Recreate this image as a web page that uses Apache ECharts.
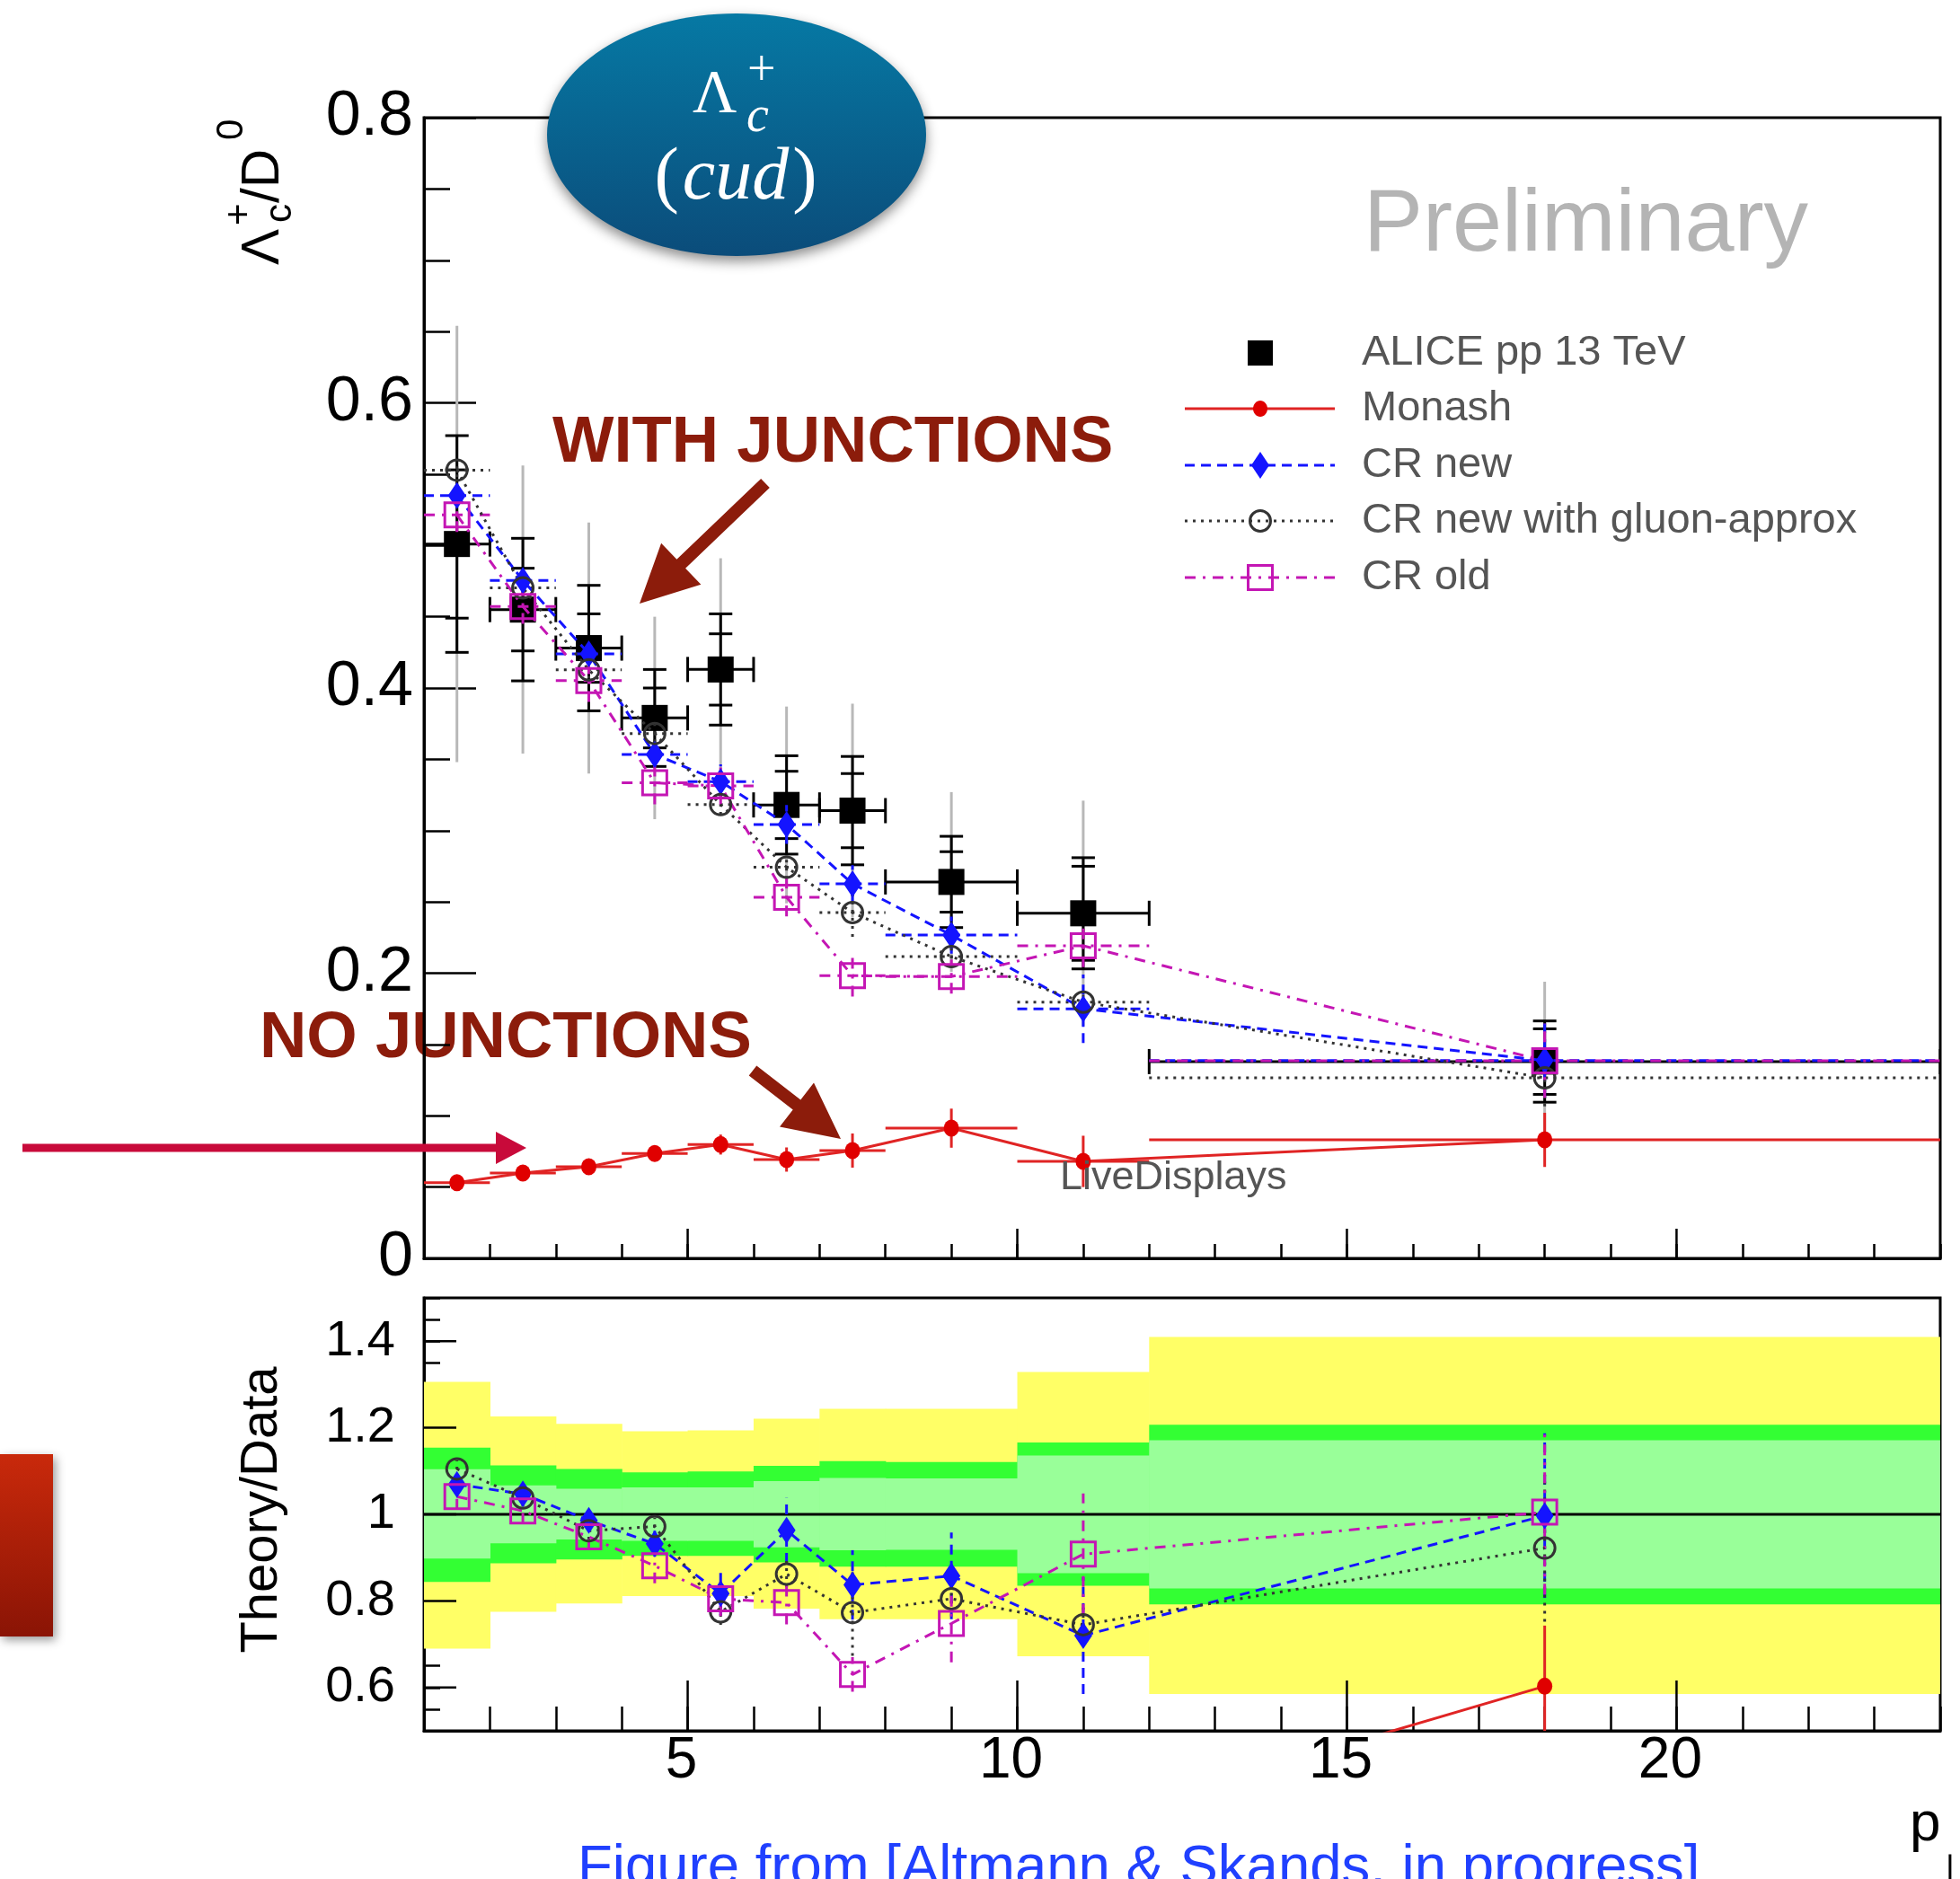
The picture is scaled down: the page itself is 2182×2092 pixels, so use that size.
<!DOCTYPE html>
<html><head><meta charset="utf-8">
<script src="https://cdn.jsdelivr.net/npm/echarts@6/dist/echarts.min.js"></script>
<style>html,body{margin:0;padding:0;background:#fff}#c{width:2182px;height:2092px}</style>
</head><body><div id="c"></div>
<script>
// ---------- data ----------
const binCenter = [1.5, 2.5, 3.5, 4.5, 5.5, 6.5, 7.5, 9, 11, 18];
const binLow    = [1, 2, 3, 4, 5, 6, 7, 8, 10, 12];
const binHigh   = [2, 3, 4, 5, 6, 7, 8, 10, 12, 24];

const aliceVal       = [0.501, 0.455, 0.428, 0.379, 0.413, 0.318, 0.314, 0.264, 0.242, 0.138];
const aliceStat      = [0.076, 0.050, 0.044, 0.034, 0.039, 0.0345, 0.038, 0.032, 0.039, 0.0285];
const aliceStatInner = [0.052, 0.029, 0.024, 0.021, 0.025, 0.0236, 0.026, 0.0212, 0.033, 0.023];
const aliceSyst      = [0.153, 0.101, 0.088, 0.071, 0.078, 0.069, 0.075, 0.063, 0.079, 0.056];

const monashVal = [0.0531, 0.0598, 0.0642, 0.0735, 0.0798, 0.0693, 0.0756, 0.0913, 0.068, 0.0831];
const monashErr = [0.003, 0.004, 0.004, 0.005, 0.007, 0.0085, 0.012, 0.0137, 0.018, 0.019];
const crNewVal  = [0.535, 0.4755, 0.424, 0.3534, 0.3344, 0.3043, 0.2627, 0.2267, 0.175, 0.1387];
const crNewErr  = [0.006, 0.008, 0.008, 0.009, 0.012, 0.0136, 0.013, 0.013, 0.024, 0.026];
const gluonVal  = [0.5528, 0.4702, 0.4127, 0.3681, 0.3182, 0.2743, 0.2425, 0.2116, 0.1797, 0.1266];
const gluonErr  = [0.005, 0.005, 0.006, 0.006, 0.007, 0.008, 0.017, 0.007, 0.008, 0.02];
const crOldVal  = [0.5214, 0.4571, 0.4052, 0.3335, 0.3313, 0.2532, 0.1982, 0.1976, 0.2192, 0.1386];
const crOldErr  = [0.012, 0.012, 0.015, 0.015, 0.013, 0.0133, 0.0145, 0.012, 0.015, 0.026];

const ratioCrNew     = [1.069, 1.047, 0.986, 0.932, 0.817, 0.963, 0.837, 0.858, 0.720, 0.997];
const ratioCrNewErr  = [0.02, 0.02, 0.025, 0.03, 0.05, 0.075, 0.08, 0.10, 0.135, 0.19];
const ratioGluon     = [1.105, 1.038, 0.962, 0.972, 0.775, 0.862, 0.773, 0.805, 0.745, 0.922];
const ratioGluonErr  = [0.02, 0.02, 0.02, 0.02, 0.03, 0.03, 0.10, 0.03, 0.04, 0.17];
const ratioCrOld     = [1.041, 1.008, 0.948, 0.881, 0.805, 0.796, 0.630, 0.748, 0.908, 1.005];
const ratioCrOldErr  = [0.03, 0.03, 0.03, 0.04, 0.04, 0.05, 0.04, 0.09, 0.14, 0.19];
const ratioMonash    = [0.106, 0.131, 0.150, 0.194, 0.193, 0.218, 0.241, 0.346, 0.29, 0.603];
const ratioMonashErr = [0.01, 0.01, 0.01, 0.02, 0.02, 0.03, 0.04, 0.05, 0.08, 0.14];

const bandYellowHi     = [1.306, 1.226, 1.209, 1.192, 1.194, 1.221, 1.244, 1.244, 1.329, 1.410];
const bandYellowLo     = [0.690, 0.775, 0.794, 0.811, 0.811, 0.782, 0.758, 0.758, 0.672, 0.585];
const bandGreenOuterHi = [1.154, 1.113, 1.105, 1.097, 1.099, 1.112, 1.123, 1.121, 1.166, 1.207];
const bandGreenOuterLo = [0.844, 0.887, 0.896, 0.904, 0.904, 0.889, 0.879, 0.879, 0.835, 0.792];
const bandGreenInnerHi = [1.104, 1.067, 1.059, 1.062, 1.062, 1.077, 1.084, 1.083, 1.136, 1.171];
const bandGreenInnerLo = [0.898, 0.933, 0.942, 0.939, 0.939, 0.924, 0.917, 0.918, 0.864, 0.829];

const refLineY = [1];
const xMajorTicks = [5, 10, 15, 20];
const yMajorTicksLower = [0.6, 0.8, 1, 1.2, 1.4];
const legendNames = ['ALICE pp 13 TeV', 'Monash', 'CR new', 'CR new with gluon-approx', 'CR old'];

// ---------- styling ----------
const FONT = 'Liberation Sans, Arial, Helvetica, sans-serif';
const SERIF = 'Liberation Serif, Times New Roman, serif';
const BLUE = '#1414ff', GL = '#333333', MAG = '#c416b4', RED = '#e00000', REDL = '#e02424';
const DASH = [11, 7], DOT = [3, 6], DASHDOT = [12, 8, 3, 8];
const DARKRED = '#8c1c0b';

function lineSeries(gi, xs, ys, color, dash, z) {
  return {type: 'line', xAxisIndex: gi, yAxisIndex: gi, data: xs.map((x, i) => [x, ys[i]]),
    symbol: 'none', lineStyle: {color, width: 3, type: dash || 'solid', opacity: 1}, clip: true, silent: true, z};
}
function markerSeries(gi, xs, ys, symbol, size, itemStyle, z) {
  return {type: 'scatter', xAxisIndex: gi, yAxisIndex: gi, data: xs.map((x, i) => [x, ys[i]]),
    symbol, symbolSize: size, itemStyle: Object.assign({opacity: 1}, itemStyle), clip: true, silent: true, z};
}
function errorSeries(gi, xs, ys, errs, lo, hi, color, dash, z) {
  const data = xs.map((x, i) => [x, ys[i], lo ? lo[i] : x, hi ? hi[i] : x, ys[i] - errs[i], ys[i] + errs[i]]);
  return {type: 'custom', xAxisIndex: gi, yAxisIndex: gi, data, clip: true, silent: true, z,
    encode: {x: [0, 2, 3], y: [1, 4, 5]},
    renderItem: (p, api) => {
      const a = api.coord([api.value(2), api.value(1)]);
      const b = api.coord([api.value(3), api.value(1)]);
      const l = api.coord([api.value(0), api.value(4)]);
      const h = api.coord([api.value(0), api.value(5)]);
      const st = {stroke: color, lineWidth: 3, lineDash: dash, fill: null};
      const ch = [];
      if (lo) ch.push({type: 'line', shape: {x1: a[0], y1: a[1], x2: b[0], y2: b[1]}, style: st});
      ch.push({type: 'line', shape: {x1: l[0], y1: l[1], x2: h[0], y2: h[1]}, style: st});
      return {type: 'group', children: ch};
    }};
}
function bandSeries(loArr, hiArr, color, z) {
  return {type: 'custom', xAxisIndex: 1, yAxisIndex: 1, clip: true, silent: true, z,
    data: binLow.map((x, i) => [x, binHigh[i], loArr[i], hiArr[i]]),
    encode: {x: [0, 1], y: [2, 3]},
    renderItem: (p, api) => {
      const p1 = api.coord([api.value(0), api.value(3)]);
      const p2 = api.coord([api.value(1), api.value(2)]);
      return {type: 'rect', shape: {x: p1[0], y: p1[1], width: p2[0] - p1[0] + 0.6, height: p2[1] - p1[1]},
        style: {fill: color}};
    }};
}
function majorXTicks(gi, yref, len) {
  return {type: 'custom', xAxisIndex: gi, yAxisIndex: gi, silent: true, z: 10,
    data: xMajorTicks.map(v => [v, yref]), encode: {x: 0, y: 1},
    renderItem: (p, api) => {
      const c = api.coord([api.value(0), api.value(1)]);
      return {type: 'line', shape: {x1: c[0], y1: c[1], x2: c[0], y2: c[1] - len},
        style: {stroke: '#000', lineWidth: 2.5}};
    }};
}
const aliceErr = {type: 'custom', xAxisIndex: 0, yAxisIndex: 0, silent: true, clip: true, z: 2,
  data: binCenter.map((x, i) => [x, aliceVal[i], binLow[i], binHigh[i],
    aliceVal[i] - aliceStat[i], aliceVal[i] + aliceStat[i],
    aliceVal[i] - aliceStatInner[i], aliceVal[i] + aliceStatInner[i]]),
  encode: {x: [0, 2, 3], y: [1, 4, 5]},
  renderItem: (p, api) => {
    const st = {stroke: '#000', lineWidth: 3, fill: null};
    const a = api.coord([api.value(2), api.value(1)]);
    const b = api.coord([api.value(3), api.value(1)]);
    const ch = [
      {type: 'line', shape: {x1: a[0], y1: a[1], x2: b[0], y2: b[1]}, style: st},
      {type: 'line', shape: {x1: a[0], y1: a[1] - 14, x2: a[0], y2: a[1] + 14}, style: st},
      {type: 'line', shape: {x1: b[0], y1: b[1] - 14, x2: b[0], y2: b[1] + 14}, style: st}
    ];
    const l = api.coord([api.value(0), api.value(4)]);
    const h = api.coord([api.value(0), api.value(5)]);
    ch.push({type: 'line', shape: {x1: l[0], y1: l[1], x2: h[0], y2: h[1]}, style: st});
    [4, 5, 6, 7].forEach(k => {
      const q = api.coord([api.value(0), api.value(k)]);
      ch.push({type: 'line', shape: {x1: q[0] - 13, y1: q[1], x2: q[0] + 13, y2: q[1]}, style: st});
    });
    return {type: 'group', children: ch};
  }};
const aliceSystSeries = {type: 'custom', xAxisIndex: 0, yAxisIndex: 0, silent: true, clip: true, z: 1,
  data: binCenter.map((x, i) => [x, aliceVal[i] - aliceSyst[i], aliceVal[i] + aliceSyst[i]]),
  encode: {x: 0, y: [1, 2]},
  renderItem: (p, api) => {
    const l = api.coord([api.value(0), api.value(1)]);
    const h = api.coord([api.value(0), api.value(2)]);
    return {type: 'line', shape: {x1: l[0], y1: l[1], x2: h[0], y2: h[1]}, style: {stroke: '#b8b8b8', lineWidth: 3}};
  }};

const hollowCircle = {color: 'rgba(0,0,0,0)', borderColor: GL, borderWidth: 3};
const hollowSquare = {color: 'rgba(0,0,0,0)', borderColor: MAG, borderWidth: 3};

const series = [
  // upper panel
  aliceSystSeries,
  aliceErr,
  markerSeries(0, binCenter, aliceVal, 'rect', 29, {color: '#000'}, 3),
  lineSeries(0, binCenter, monashVal, REDL, null, 4),
  errorSeries(0, binCenter, monashVal, monashErr, binLow, binHigh, REDL, null, 4),
  markerSeries(0, binCenter, monashVal, 'circle', [17, 19], {color: RED}, 5),
  lineSeries(0, binCenter, crNewVal, BLUE, DASH, 4),
  errorSeries(0, binCenter, crNewVal, crNewErr, binLow, binHigh, BLUE, DASH, 4),
  lineSeries(0, binCenter, gluonVal, GL, DOT, 4),
  errorSeries(0, binCenter, gluonVal, gluonErr, binLow, binHigh, GL, DOT, 4),
  lineSeries(0, binCenter, crOldVal, MAG, DASHDOT, 4),
  errorSeries(0, binCenter, crOldVal, crOldErr, binLow, binHigh, MAG, DASHDOT, 4),
  markerSeries(0, binCenter, crNewVal, 'diamond', [20, 30], {color: BLUE}, 6),
  markerSeries(0, binCenter, gluonVal, 'circle', 23, hollowCircle, 6),
  markerSeries(0, binCenter, crOldVal, 'rect', 27, hollowSquare, 6),
  majorXTicks(0, 0, 33),
  // lower panel
  bandSeries(bandYellowLo, bandYellowHi, '#ffff66', 1),
  bandSeries(bandGreenOuterLo, bandGreenOuterHi, '#33ff33', 1),
  bandSeries(bandGreenInnerLo, bandGreenInnerHi, '#99ff99', 1),
  {type: 'line', xAxisIndex: 1, yAxisIndex: 1, silent: true, z: 2, symbol: 'none',
    data: [[binLow[0], refLineY[0]], [binHigh[binHigh.length - 1], refLineY[0]]],
    lineStyle: {color: '#000', width: 3}},
  lineSeries(1, binCenter, ratioCrNew, BLUE, DASH, 3),
  errorSeries(1, binCenter, ratioCrNew, ratioCrNewErr, null, null, BLUE, DASH, 3),
  lineSeries(1, binCenter, ratioGluon, GL, DOT, 3),
  errorSeries(1, binCenter, ratioGluon, ratioGluonErr, null, null, GL, DOT, 3),
  lineSeries(1, binCenter, ratioCrOld, MAG, DASHDOT, 3),
  errorSeries(1, binCenter, ratioCrOld, ratioCrOldErr, null, null, MAG, DASHDOT, 3),
  lineSeries(1, binCenter, ratioMonash, REDL, null, 3),
  errorSeries(1, binCenter, ratioMonash, ratioMonashErr, null, null, REDL, null, 3),
  markerSeries(1, binCenter, ratioMonash, 'circle', [17, 19], {color: RED}, 5),
  markerSeries(1, binCenter, ratioCrNew, 'diamond', [20, 30], {color: BLUE}, 5),
  markerSeries(1, binCenter, ratioGluon, 'circle', 23, hollowCircle, 5),
  markerSeries(1, binCenter, ratioCrOld, 'rect', 27, hollowSquare, 5),
  majorXTicks(1, 0.5, 56),
  {type: 'custom', xAxisIndex: 1, yAxisIndex: 1, silent: true, z: 10,
    data: yMajorTicksLower.map(v => [1, v]), encode: {x: 0, y: 1},
    renderItem: (p, api) => {
      const c = api.coord([api.value(0), api.value(1)]);
      return {type: 'line', shape: {x1: c[0], y1: c[1], x2: c[0] + 36, y2: c[1]}, style: {stroke: '#000', lineWidth: 2.5}};
    }}
];

// ---------- annotations ----------
function T(text, x, y, size, color, o) {
  o = o || {};
  return Object.assign({type: 'text', x, y, silent: true, z: o.z == null ? 50 : o.z,
    style: Object.assign({text, fontFamily: FONT, fontSize: size, fill: color,
      align: o.align || 'left', textAlign: o.align || 'left',
      verticalAlign: 'middle', textVerticalAlign: 'middle'}, o.style || {})},
    o.rot ? {rotation: o.rot} : {});
}
function arrowPts(x1, y1, x2, y2, sw, hl, hw) {
  const dx = x2 - x1, dy = y2 - y1, L = Math.hypot(dx, dy), ux = dx / L, uy = dy / L, nx = -uy, ny = ux;
  const bx = x2 - ux * hl, by = y2 - uy * hl;
  return [[x1 + nx * sw / 2, y1 + ny * sw / 2], [bx + nx * sw / 2, by + ny * sw / 2], [bx + nx * hw / 2, by + ny * hw / 2],
    [x2, y2], [bx - nx * hw / 2, by - ny * hw / 2], [bx - nx * sw / 2, by - ny * sw / 2], [x1 - nx * sw / 2, y1 - ny * sw / 2]];
}
const R = Math.PI / 2;
const legendY = [393, 455, 518, 580, 643];
const LX1 = 1319, LX2 = 1486, LXM = 1403, LTX = 1516;

const graphic = [
  // ellipse badge
  {type: 'ellipse', silent: true, z: 100, shape: {cx: 820, cy: 150, rx: 211, ry: 135},
    style: {fill: {type: 'linear', x: 0, y: 0, x2: 0, y2: 1, colorStops: [{offset: 0, color: '#0679a4'}, {offset: 1, color: '#0b4c7a'}]},
      shadowBlur: 14, shadowColor: 'rgba(0,0,0,0.45)', shadowOffsetY: 6}},
  T('Λ', 771, 106, 68, '#fff', {z: 101, style: {fontFamily: SERIF}}),
  T('c', 831, 131, 56, '#fff', {z: 101, style: {fontFamily: SERIF, fontStyle: 'italic'}}),
  T('+', 832, 80, 56, '#fff', {z: 101, style: {fontFamily: SERIF}}),
  {type: 'text', x: 819, y: 199, silent: true, z: 101,
    style: {text: '{p|(}{i|cud}{p|)}', align: 'center', textAlign: 'center', verticalAlign: 'middle', textVerticalAlign: 'middle',
      rich: {p: {fontFamily: SERIF, fontSize: 82, fill: '#fff', color: '#fff'}, i: {fontFamily: SERIF, fontSize: 82, fontStyle: 'italic', fill: '#fff', color: '#fff', padding: [0, 4, 0, 4]}}}},
  // Preliminary
  T('Preliminary', 1518, 252, 99, '#b4b4b4'),
  // legend
  {type: 'rect', silent: true, z: 50, shape: {x: LXM - 14, y: legendY[0] - 14, width: 28, height: 28}, style: {fill: '#000'}},
  {type: 'line', silent: true, z: 50, shape: {x1: LX1, y1: legendY[1], x2: LX2, y2: legendY[1]}, style: {stroke: REDL, lineWidth: 3}},
  {type: 'ellipse', silent: true, z: 51, shape: {cx: LXM, cy: legendY[1], rx: 8, ry: 9}, style: {fill: RED}},
  {type: 'line', silent: true, z: 50, shape: {x1: LX1, y1: legendY[2], x2: LX2, y2: legendY[2]}, style: {stroke: BLUE, lineWidth: 3, lineDash: DASH}},
  {type: 'polygon', silent: true, z: 51, shape: {points: [[LXM, legendY[2] - 15], [LXM + 10, legendY[2]], [LXM, legendY[2] + 15], [LXM - 10, legendY[2]]]}, style: {fill: BLUE}},
  {type: 'line', silent: true, z: 50, shape: {x1: LX1, y1: legendY[3], x2: LX2, y2: legendY[3]}, style: {stroke: GL, lineWidth: 3, lineDash: DOT}},
  {type: 'circle', silent: true, z: 51, shape: {cx: LXM, cy: legendY[3], r: 11.5}, style: {fill: null, stroke: GL, lineWidth: 3}},
  {type: 'line', silent: true, z: 50, shape: {x1: LX1, y1: legendY[4], x2: LX2, y2: legendY[4]}, style: {stroke: MAG, lineWidth: 3, lineDash: DASHDOT}},
  {type: 'rect', silent: true, z: 51, shape: {x: LXM - 13.5, y: legendY[4] - 13.5, width: 27, height: 27}, style: {fill: null, stroke: MAG, lineWidth: 3}},
  ...legendNames.map((n, i) => T(n, LTX, legendY[i], 47, '#555555')),
  // annotations
  T('WITH JUNCTIONS', 615, 494, 72.5, DARKRED, {z: -1, style: {fontWeight: 'bold'}}),
  {type: 'polygon', silent: true, z: 60, shape: {points: arrowPts(852, 538, 712, 672, 14, 64, 64)}, style: {fill: DARKRED}},
  T('NO JUNCTIONS', 289, 1157, 72.5, DARKRED, {z: -1, style: {fontWeight: 'bold'}}),
  {type: 'polygon', silent: true, z: 60, shape: {points: arrowPts(838, 1192, 936, 1268, 14, 62, 62)}, style: {fill: DARKRED}},
  {type: 'polygon', silent: true, z: 60, shape: {points: arrowPts(25, 1278, 586, 1278, 9, 34, 36)}, style: {fill: '#c80a3a'}},
  {type: 'rect', silent: true, z: 60, shape: {x: 0, y: 1619, width: 59, height: 203},
    style: {fill: {type: 'linear', x: 0, y: 0, x2: 0, y2: 1, colorStops: [{offset: 0, color: '#c9290b'}, {offset: 1, color: '#8a1405'}]},
      shadowBlur: 10, shadowColor: 'rgba(0,0,0,0.4)', shadowOffsetX: 3, shadowOffsetY: 4}},
  T('LiveDisplays', 1180, 1312, 45, '#555555'),
  // axis titles
  T('Λ', 293, 295, 60, '#000', {rot: R}),
  T('c', 312, 248, 42, '#000', {rot: R}),
  T('+', 267, 251, 42, '#000', {rot: R}),
  T('/D', 293, 226, 60, '#000', {rot: R}),
  T('0', 258, 156, 42, '#000', {rot: R}),
  T('Theory/Data', 292, 1681, 58, '#000', {rot: R, align: 'center'}),
  T('p', 2126, 2032, 62, '#000'),
  T('⊥', 2150, 2086, 48, '#000', {style: {fontFamily: 'DejaVu Sans'}}),
  T('Figure from [Altmann & Skands, in progress]', 643, 2080, 63.5, '#2040ff')
];

const axisLine = {show: true, onZero: false, lineStyle: {color: '#000', width: 3}};
const option = {
  animation: false,
  backgroundColor: '#ffffff',
  textStyle: {fontFamily: FONT},
  grid: [
    {left: 472, top: 131, width: 1688, height: 1270, show: true, borderColor: '#000', borderWidth: 3, backgroundColor: 'rgba(0,0,0,0)'},
    {left: 472, top: 1445, width: 1688, height: 482, show: true, borderColor: '#000', borderWidth: 3, backgroundColor: 'rgba(0,0,0,0)'}
  ],
  xAxis: [
    {gridIndex: 0, type: 'value', min: 1, max: 24, interval: 1, axisLine,
      axisTick: {show: true, inside: true, length: 16, lineStyle: {color: '#000', width: 2.5}},
      axisLabel: {show: false}, splitLine: {show: false}},
    {gridIndex: 1, type: 'value', min: 1, max: 24, interval: 1, axisLine,
      axisTick: {show: true, inside: true, length: 27, lineStyle: {color: '#000', width: 2.5}},
      axisLabel: {show: true, margin: 2, fontSize: 64, color: '#000', fontFamily: FONT, padding: [0, 14, 0, 0],
        formatter: v => (Math.abs(v % 5) < 1e-9 ? String(v) : '')},
      splitLine: {show: false}}
  ],
  yAxis: [
    {gridIndex: 0, type: 'value', min: 0, max: 0.8, interval: 0.2, axisLine,
      axisTick: {show: true, inside: true, length: 58, lineStyle: {color: '#000', width: 2.5}},
      minorTick: {show: true, splitNumber: 4, length: 29, lineStyle: {color: '#000', width: 2.5}},
      axisLabel: {fontSize: 70, margin: 12, color: '#000', fontFamily: FONT},
      splitLine: {show: false}, minorSplitLine: {show: false}},
    {gridIndex: 1, type: 'value', min: 0.5, max: 1.5, interval: 0.05, axisLine,
      axisTick: {show: true, inside: true, length: 18, lineStyle: {color: '#000', width: 2.5}},
      axisLabel: {fontSize: 56, margin: 32, color: '#000', fontFamily: FONT,
        formatter: v => { const r = Math.round(v * 100); if (r % 20 === 0 && r >= 60 && r <= 140) return r === 100 ? '1' : (r / 100).toFixed(1); return ''; }},
      splitLine: {show: false}}
  ],
  series,
  graphic
};
const chart = echarts.init(document.getElementById('c'), null, {renderer: 'canvas', width: 2182, height: 2092});
chart.setOption(option);
</script>
</body></html>
